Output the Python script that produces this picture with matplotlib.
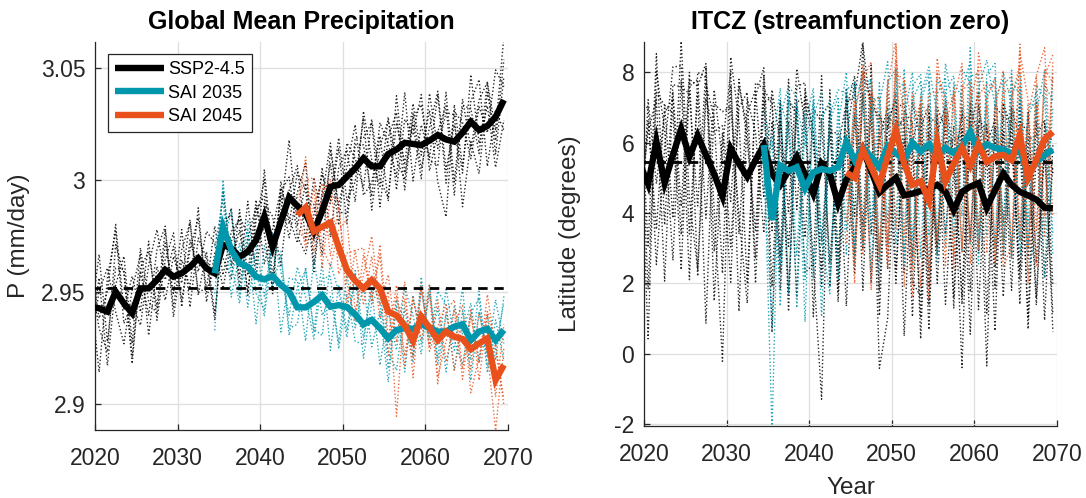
import numpy as np
import matplotlib
matplotlib.use("Agg")
import matplotlib.pyplot as plt

plt.rcParams['font.family'] = ['Liberation Sans', 'DejaVu Sans']
plt.rcParams['axes.unicode_minus'] = False

BLACK = '#000000'
TEAL = '#0097AC'
ORANGE = '#E8501C'
AXIS = '#262626'
GRID = '#DFDFDF'

# ---------------- data ----------------
years_ssp = np.arange(2019, 2070)
years_2035 = np.arange(2034, 2070)
years_2045 = np.arange(2044, 2070)

# ensemble-mean global precipitation (mm/day)
precip_ssp = [2.9433,
              2.9427, 2.9412, 2.9501, 2.9449, 2.9405, 2.9516, 2.9516, 2.9553, 2.9598,
              2.9568, 2.9583, 2.9612, 2.9650, 2.9605, 2.9583, 2.9710, 2.9694, 2.9657, 2.9679,
              2.9730, 2.9836, 2.9702, 2.9813, 2.9922, 2.9883, 2.9850, 2.9770, 2.9860, 2.9969,
              2.9977, 3.0014, 3.0051, 3.0096, 3.0060, 3.0060, 3.0115, 3.0135, 3.0165, 3.0160,
              3.0155, 3.0175, 3.0200, 3.0180, 3.0170, 3.0210, 3.0259, 3.0222, 3.0240, 3.0280, 3.0356]
precip_sai2035 = [2.9583, 2.9790, 2.9687, 2.9628, 2.9612, 2.9568, 2.9556, 2.9571, 2.9531, 2.9501,
                  2.9431, 2.9431, 2.9455, 2.9485, 2.9434, 2.9441, 2.9432, 2.9400, 2.9355, 2.9375,
                  2.9338, 2.9293, 2.9330, 2.9338, 2.9335, 2.9357, 2.9338, 2.9323, 2.9323, 2.9345,
                  2.9355, 2.9285, 2.9323, 2.9335, 2.9285, 2.9330]
precip_sai2045 = [2.9843, 2.9877, 2.9770, 2.9790, 2.9809, 2.9700, 2.9598, 2.9550, 2.9516, 2.9553,
                  2.9516, 2.9412, 2.9395, 2.9350, 2.9282, 2.9390, 2.9340, 2.9285, 2.9323, 2.9300,
                  2.9290, 2.9245, 2.9270, 2.9293, 2.9107, 2.9174]
precip_baseline = 2.9516

# individual ensemble members, as departures from the ensemble mean
precip_ssp_unit = 0.0015
precip_ssp_members = [
    [4, -19, 10, 18, -6, 3, -11, 7, 15, -3, 9, -8, 5, 12, -7, 2, 16, -5, 8, -12,
     6, 11, -9, 3, 17, -6, 9, -3, 13, -15, 5, 8, -10, 14, 2, -6, 11, -12, 7, 3,
     15, -9, 1, 10, -16, 8, 4, -7, 13, -4, 19],
    [-8, 9, -16, 2, 14, -9, 12, -4, -10, 8, -5, 13, -12, 6, 3, -14, 7, 10, -6, 15,
     -11, 4, 9, -13, 2, 12, -8, 16, -2, 7, -12, 10, 3, -9, 14, -4, -13, 8, -6, 12,
     -3, 9, -14, -23, 11, -10, 6, 15, -12, 2, -9],
    [12, -3, 6, 20, -2, 11, -7, 14, -12, 3, 13, -10, 8, -4, 11, 9, -13, 2, 12, 5,
     -7, 14, -3, 8, -12, 4, 15, -10, 6, -5, 11, -14, 7, 4, -9, 13, 3, -8, 15, -11,
     6, -5, 12, -13, 9, 3, -11, 7, -2, 14, 4],
    [-3, 16, -9, 7, 10, -13, 5, -8, 9, 13, -12, 4, -6, 15, -10, 6, -4, -9, 14, -7,
     12, -14, 5, 10, -6, -11, 3, 8, -13, 11, -6, 3, 13, -11, -5, 9, -14, 16, -9, 6,
     -10, 14, -4, 8, 8, -22, -6, -13, 10, -7, 12],
    [-10, 5, 13, -6, -12, 7, 10, -14, 4, -9, 6, -3, 14, -11, 5, -12, 3, 12, -9, 4,
     10, -5, -13, 9, 6, -9, -12, 5, 11, -4, 14, -7, -4, 12, -13, 6, 10, -3, -11, 9,
     -7, 4, 13, -9, 5, -12, 14, -4, 6, -15, -6],
    [8, -6, -12, 14, 9, -15, 6, 11, -8, 12, -9, 7, 13, -10, -6, 14, -9, 5, 11, -13,
     9, 6, -14, 12, -8, 10, 7, -12, 4, 13, -8, -11, 9, 6, 13, -12, 5, 11, -14, 8,
     12, -6, -9, 14, -12, 10, -8, 9, 13, -11, 7],
]
precip_sai_unit = 0.0015
precip_sai2035_members = [
    [-17, 14, -8, 6, -12, 9, -5, 11, -14, 4, 8, -10, 13, -6, 3, -11, 10, -4, 12, -8,
     5, -13, 9, 2, -10, 14, -5, 7, -12, 6, -3, 11, -9, 4, -6, 10],
    [4, -6, 12, -10, 8, -14, 10, -3, 9, -11, -5, 12, -9, 10, -13, 6, -7, 13, -4, 9,
     -11, 8, -6, 12, 4, -9, 13, -10, 5, -7, 11, -12, 6, -8, 12, -4],
    [8, 8, -14, 3, 11, -5, -9, 13, 4, -7, 12, 3, -11, 5, 9, -13, 4, -8, -6, 13,
     7, -4, -12, 6, -8, 10, -3, 12, 8, -13, 4, -6, 12, -11, -2, 8],
    [-6, 12, -4, -12, 14, 3, -11, 8, 10, -13, 6, 11, -8, -12, 13, 4, -9, 12, -10, 5,
     12, -9, 7, -13, 10, -6, 11, -8, 13, -4, -12, 8, 10, -13, 6, -9],
]
precip_sai2045_members = [
    [0, 15, -6, 10, 13, -8, 5, 9, -5, 7, -9, 6, -30, 8, -5, 10, -7, 4, 8, -10,
     5, -6, 9, -4, -15, 5],
    [-4, -10, 13, -12, 8, 14, -11, 9, 12, -6, 10, -13, 6, -9, 12, -4, 13, -11, -3, 8,
     -12, 10, -6, 13, 9, -10],
    [5, 8, 16, -6, -13, 5, 15, -9, 4, 13, -5, 11, -8, 13, -11, 9, -6, 12, -9, 4,
     10, -13, -4, 8, 11, -12],
    [3, -12, 8, 13, -10, 12, -4, -12, 10, -7, 13, -8, 9, -12, 13, -7, 10, -13, 6, 11,
     -9, 12, -11, 7, -5, 12],
]

# ensemble-mean ITCZ latitude (degrees)
itcz_ssp = [5.40,
            4.82, 6.03, 4.86, 5.65, 6.38, 5.60, 6.20, 5.65, 5.10, 4.48,
            5.83, 5.40, 5.03, 5.50, 5.93, 5.10, 4.80, 5.20, 5.60, 5.10,
            4.55, 5.40, 5.10, 4.27, 4.95, 5.30, 5.80, 5.20, 4.58, 4.80,
            5.00, 4.50, 4.55, 4.62, 4.68, 4.80, 4.60, 4.08, 4.60, 4.75,
            4.85, 4.15, 4.65, 5.12, 4.80, 4.60, 4.50, 4.38, 4.15, 4.13]
itcz_sai2035 = [5.93, 3.80, 5.35, 5.20, 5.30, 4.70, 5.15, 5.25, 5.20, 5.30,
                6.00, 5.50, 5.85, 5.60, 5.30, 5.90, 5.70, 5.50, 6.00, 5.75,
                5.95, 5.60, 5.85, 5.70, 5.90, 6.30, 5.75, 5.95, 5.85, 5.80,
                5.70, 5.80, 5.10, 5.45, 5.65, 5.80]
itcz_sai2045 = [5.15, 5.00, 5.80, 5.30, 4.80, 5.60, 6.35, 5.40, 4.80, 4.90,
                4.35, 6.00, 4.90, 5.40, 5.85, 5.35, 5.95, 5.45, 5.60, 5.65,
                5.50, 6.20, 5.00, 5.50, 6.10, 6.30]
itcz_baseline = 5.45

itcz_unit = 0.1
itcz_ssp_members = [
    [12, -44, 20, 15, -30, 14, -35, 18, 22, -10, -47, 18, -20, 22, 8, -25, 15, -30, 20, 12,
     -28, -20, -67, 24, -15, 20, 26, -22, 30, -35, 18, 22, -40, 14, 25, -28, 20, -12, 24, -32,
     16, 26, -30, 18, -24, 22, 15, -35, 28, -20, 12],
    [-20, 18, -25, 22, 12, -40, 20, 16, -18, 24, 10, -38, 22, 14, -28, 20, -45, 18, -12, 25,
     14, -20, 25, -32, 18, 12, -30, 22, 20, -50, -38, 16, 20, -18, 22, -33, 15, 24, -28, 18,
     -15, 22, 14, -40, 20, 12, -25, 24, -18, 16, -30],
    [15, 22, -35, 10, 25, 18, -22, 12, -48, 20, 24, 12, -15, -36, 22, 16, 20, -25, 14, -40,
     22, 18, -22, 12, 20, -36, 15, -28, 18, 22, 12, -30, 24, 20, -42, 16, -20, 22, 14, -50,
     24, -36, 18, 20, -14, 22, -32, 16, 18, 25, -22],
    [-10, 15, 12, -28, 18, -22, 24, -40, 16, 12, 20, -15, 24, 10, -20, 15, -32, 22, -35, 14,
     -18, 24, 12, -25, 16, 22, 20, 31, -18, 15, 22, -26, 16, -35, 18, 24, -28, 14, 20, 16,
     -42, 18, 22, -22, 12, -30, 20, 18, -28, 24, 10],
    [22, -18, 25, -12, 20, 12, 18, -20, 25, -36, 14, 22, -42, 18, 20, -15, 24, 12, -22, 16,
     20, 15, -30, 18, -25, 24, -14, 30, 16, -28, 20, 14, 22, -25, -30, 20, 18, -32, 12, 22,
     18, -20, 24, -28, 20, 16, -22, 12, -30, 18, 20],
    [18, -30, 14, 22, -18, 25, -12, -38, 20, 16, -22, 26, 12, -30, 18, 22, -16, 24, -40, 20,
     26, -35, 14, 20, -28, 12, 24, -40, 22, 18, -24, 20, 26, 12, -36, 22, -18, 26, 16, -30,
     22, 14, -45, 24, 16, -20, 26, -38, 14, 20, -35],
    [-28, 24, -12, 20, 16, -30, 22, 14, 26, -22, 18, -28, 16, 24, -35, 12, 22, -20, 26, -15,
     24, 18, -35, 14, -20, 26, -25, 16, -32, 22, 16, 24, -22, 26, 14, -40, 22, 18, -25, 24,
     -30, 16, 22, 14, -35, 20, 24, -18, 22, -32, 18],
]
itcz_sai2035_members = [
    [0, -60, 18, 12, -25, 22, -30, 14, 20, -32, 15, 22, -28, 16, 20, -22, 24, -30, 12, 20,
     -26, 22, 14, -30, 16, 20, -24, 18, -28, 22, 14, -26, 20, 16, -22, 12],
    [-12, 24, -40, 20, 16, -38, 22, -20, -35, 18, -25, 14, 22, -32, 18, 24, -26, 12, 20, -30,
     18, -22, 24, 12, -30, 16, 22, -26, 14, 20, -30, 18, -14, 22, 16, -24],
    [10, 20, 22, -35, 18, 12, 20, -42, 16, 22, 14, -30, 18, 22, -24, 15, -20, 26, -28, 16,
     22, 12, -28, 20, 14, -32, 18, 24, 12, -26, 20, 16, -28, -20, 20, 14],
    [6, 16, -28, 22, -40, 18, 24, -22, 14, 20, -32, 22, 16, -20, 24, -28, 18, 22, -35, 14,
     20, -30, 16, 22, -20, 24, -32, 14, 20, -22, 24, -30, 16, 20, -35, 22],
    [-8, -30, 14, 24, 20, -26, 16, 22, -30, 12, 20, -24, 14, 22, -30, 18, 24, -26, 16, 22,
     -35, 18, 20, -24, 22, 14, -28, 20, 24, -30, 16, 22, -20, 14, 24, -30],
]
itcz_sai2045_members = [
    [-8, 22, -30, 18, 25, -28, 20, 14, -32, 24, 22, -28, 20, -26, 16, 24, -30, 18, 22, -25,
     18, 20, -30, 24, -22, 16],
    [12, -25, 20, 30, -20, 22, -28, 24, 16, -30, 30, 15, -24, 22, -28, 18, 22, -26, 14, 24,
     -28, 24, 22, -20, 18, 22],
    [-20, 18, 22, -35, 16, -24, 24, -20, 26, 12, -20, 24, 16, 20, -30, 22, -24, 16, -26, 18,
     20, -30, 18, 24, 26, -24],
    [10, -30, 24, 16, -22, 20, 26, -35, 18, 22, -28, 20, 24, -30, 18, -22, 26, 16, -30, 20,
     24, -26, 18, -30, 20, 14],
    [-14, 20, -26, 22, 18, -32, 16, 24, -24, 20, 16, -30, 22, 18, 24, -28, 14, 22, 20, -32,
     -24, 26, -20, 16, -28, 20],
]

x_ticks = [2020, 2030, 2040, 2050, 2060, 2070]
precip_ticks = [2.9, 2.95, 3.0, 3.05]
precip_tick_labels = ['2.9', '2.95', '3', '3.05']
itcz_ticks = [-2, 0, 2, 4, 6, 8]
itcz_tick_labels = ['-2', '0', '2', '4', '6', '8']

# ---------------- drawing ----------------
MEAN_LW = 4.6
MEMBER_LW = 1.0
DOTS = (0, (1.0, 1.6))

fig = plt.figure(figsize=(10.86, 4.98), dpi=100)
ax1 = fig.add_axes([0.08748, 0.13655, 0.38029, 0.77972])
ax2 = fig.add_axes([0.59300, 0.14458, 0.38029, 0.77169])


def draw_panel(ax, means, members, units, baseline):
    series = [(years_ssp, BLACK), (years_2035, TEAL), (years_2045, ORANGE)]
    # ensemble members (dotted), plotted at mid-year
    for (yrs, col), mean, mems, unit in zip(series, means, members, units):
        m = np.asarray(mean)
        for dev in mems:
            ax.plot(yrs + 0.5, m + unit * np.asarray(dev), color=col, alpha=0.85,
                    lw=MEMBER_LW, ls=DOTS, zorder=2)
    # reference climate
    ax.plot([years_ssp[0] + 0.5, years_ssp[-1] + 0.5], [baseline, baseline],
            color=BLACK, lw=2.0, ls=(0, (3.4, 2.4)), zorder=3)
    handles = []
    for (yrs, col), mean in zip(series, means):
        h, = ax.plot(yrs + 0.5, mean, color=col, lw=MEAN_LW,
                     solid_joinstyle='miter', solid_capstyle='butt', zorder=4)
        handles.append(h)
    ax.set_xlim(2020, 2070)
    ax.set_xticks(x_ticks)
    ax.grid(True, color=GRID, lw=0.9, zorder=0)
    ax.set_axisbelow(True)
    for s in ['top', 'right']:
        ax.spines[s].set_visible(False)
    for s in ['left', 'bottom']:
        ax.spines[s].set_color(AXIS)
        ax.spines[s].set_linewidth(0.9)
    ax.tick_params(direction='in', length=4, width=0.9, colors=AXIS,
                   labelsize=16.5, labelcolor=AXIS)
    ax.tick_params(axis='x', pad=12)
    ax.tick_params(axis='y', pad=7)
    return handles


h = draw_panel(ax1, [precip_ssp, precip_sai2035, precip_sai2045],
               [precip_ssp_members, precip_sai2035_members, precip_sai2045_members],
               [precip_ssp_unit, precip_sai_unit, precip_sai_unit], precip_baseline)
ax1.set_ylim(2.8884, 3.0616)
ax1.set_yticks(precip_ticks)
ax1.set_yticklabels(precip_tick_labels)
ax1.set_ylabel('P (mm/day)', fontsize=17.5, color=AXIS, labelpad=8)
ax1.set_title('Global Mean Precipitation', fontsize=18, fontweight='bold', pad=9)
leg = ax1.legend(h, ['SSP2-4.5', 'SAI 2035', 'SAI 2045'], loc='upper left',
                 bbox_to_anchor=(0.031, 0.968), borderaxespad=0, fontsize=13,
                 frameon=True, fancybox=False, handlelength=2.7, handletextpad=0.25,
                 labelspacing=0.35, borderpad=0.4)
leg.get_frame().set_edgecolor(AXIS)
leg.get_frame().set_linewidth(0.9)
leg.get_frame().set_alpha(1)
leg.set_zorder(10)

draw_panel(ax2, [itcz_ssp, itcz_sai2035, itcz_sai2045],
           [itcz_ssp_members, itcz_sai2035_members, itcz_sai2045_members],
           [itcz_unit, itcz_unit, itcz_unit], itcz_baseline)
ax2.set_ylim(-2.06, 8.87)
ax2.set_yticks(itcz_ticks)
ax2.set_yticklabels(itcz_tick_labels)
ax2.set_ylabel('Latitude (degrees)', fontsize=17.5, color=AXIS, labelpad=24)
ax2.set_xlabel('Year', fontsize=17.5, color=AXIS, labelpad=8)
ax2.set_title('ITCZ (streamfunction zero)', fontsize=18, fontweight='bold', pad=9)

fig.savefig('out.png', dpi=100)
